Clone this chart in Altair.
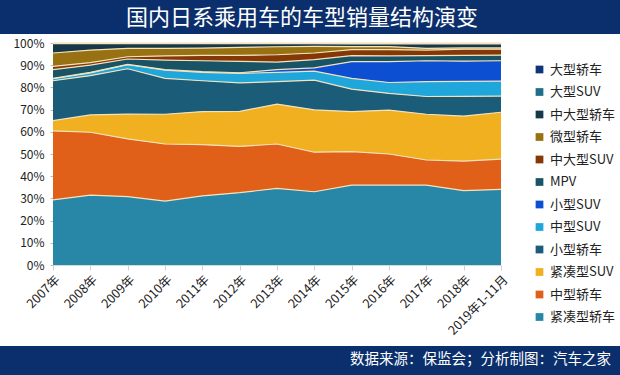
import altair as alt
import pandas as pd

years = ["2007年", "2008年", "2009年", "2010年", "2011年", "2012年", "2013年",
         "2014年", "2015年", "2016年", "2017年", "2018年", "2019年1-11月"]

# stack order: bottom -> top
series_names = ["紧凑型轿车", "中型轿车", "紧凑型SUV", "小型轿车", "中型SUV", "小型SUV",
                "MPV", "中大型SUV", "微型轿车", "中大型轿车", "大型SUV", "大型轿车"]

compact_sedan = [29.3, 31.5, 30.8, 28.8, 31.1, 32.6, 34.5, 33.0, 36.0, 36.0, 36.0, 33.5, 34.1]
mid_sedan     = [31.1, 28.3, 26.0, 25.7, 23.1, 20.8, 20.0, 17.8, 15.1, 14.0, 11.3, 13.3, 13.6]
compact_suv   = [4.6, 7.8, 11.2, 13.4, 14.9, 15.8, 18.0, 19.1, 18.0, 19.8, 20.6, 20.3, 21.1]
small_sedan   = [18.0, 17.7, 20.4, 16.2, 13.9, 12.8, 10.1, 13.4, 10.1, 7.5, 8.0, 8.9, 7.3]
mid_suv       = [0.9, 1.2, 1.8, 3.7, 3.8, 4.3, 4.2, 4.0, 4.9, 4.9, 6.7, 6.7, 6.7]
small_suv     = [0.2, 0.3, 0.2, 0.2, 0.3, 0.3, 1.2, 1.5, 7.5, 9.4, 9.4, 9.1, 9.2]
mpv           = [3.9, 3.2, 2.4, 4.3, 4.9, 5.1, 3.4, 3.7, 2.7, 2.6, 2.3, 2.6, 2.5]
midlarge_suv  = [1.5, 1.2, 1.0, 1.9, 2.4, 2.7, 3.3, 3.0, 2.7, 2.8, 2.5, 2.8, 2.7]
mini_sedan    = [6.0, 5.6, 3.8, 3.4, 3.3, 3.6, 3.6, 3.0, 1.4, 1.4, 0.8, 0.6, 0.6]
midlarge_sedan= [4.2, 2.9, 2.1, 2.1, 2.0, 1.7, 1.4, 1.2, 1.2, 1.2, 2.0, 1.8, 1.8]
large_suv     = [0.1, 0.1, 0.1, 0.1, 0.1, 0.1, 0.1, 0.1, 0.2, 0.2, 0.2, 0.2, 0.2]
large_sedan   = [0.2, 0.2, 0.2, 0.2, 0.2, 0.2, 0.2, 0.2, 0.2, 0.2, 0.2, 0.2, 0.2]

series_values = [compact_sedan, mid_sedan, compact_suv, small_sedan, mid_suv, small_suv,
                 mpv, midlarge_suv, mini_sedan, midlarge_sedan, large_suv, large_sedan]

series_colors = ["#2886a6", "#e0601a", "#f0b020", "#1b5d78", "#1fa6da", "#0c4fd2",
                 "#185466", "#843808", "#987212", "#173848", "#1f6f88", "#0f3478"]

y_ticks = [0, 0.1, 0.2, 0.3, 0.4, 0.5, 0.6, 0.7, 0.8, 0.9, 1.0]

legend_order = list(reversed(series_names))
legend_colors = list(reversed(series_colors))

rows = []
for i, (name, vals) in enumerate(zip(series_names, series_values)):
    for y, v in zip(years, vals):
        rows.append({"year": y, "series": name, "value": v, "idx": i})
df = pd.DataFrame(rows)

title_text = "国内日系乘用车的车型销量结构演变"
footer_text = "数据来源：保监会；分析制图：汽车之家"

FONT = "Noto Sans CJK SC"
W, H = 448, 222
PL, PT = 53, 43

x_axis = alt.Axis(title=None, labelAngle=-45, labelFontSize=12.5, labelFont=FONT,
                  labelColor="#222", tickColor="#cfcfcf", tickSize=5,
                  domainColor="#d8d8d8", labelPadding=3, labelOverlap=False)
y_axis = alt.Axis(title=None, values=y_ticks, format=".0%", labelFontSize=12, labelFont=FONT,
                  labelColor="#222", grid=False, domain=False, tickSize=3,
                  tickColor="#bbb", labelPadding=6, labelOverlap=False)
x_scale = alt.Scale(padding=0)
y_scale = alt.Scale(domain=[0, 1], nice=False)

area = alt.Chart(df).mark_area(opacity=1).encode(
    x=alt.X("year:O", sort=years, scale=x_scale, axis=x_axis),
    y=alt.Y("value:Q", stack="normalize", scale=y_scale, axis=y_axis),
    color=alt.Color("series:N", scale=alt.Scale(domain=legend_order, range=legend_colors),
                    legend=alt.Legend(title=None, orient="none", legendX=480, legendY=20,
                                      symbolType="square", symbolSize=60, symbolStrokeWidth=0,
                                      labelFontSize=13, labelFont=FONT, labelColor="#222",
                                      rowPadding=8.5, padding=0, labelOffset=4)),
    order=alt.Order("idx:Q", sort="ascending"),
)

lines = alt.Chart(df).mark_line(color="#f4e2bc", strokeWidth=1.2).encode(
    x=alt.X("year:O", sort=years, scale=x_scale, axis=x_axis),
    y=alt.Y("value:Q", stack="normalize", scale=y_scale, axis=y_axis),
    detail="series:N",
    order=alt.Order("idx:Q", sort="ascending"),
)

one = pd.DataFrame({"t": [title_text], "f": [footer_text]})
bar_color = "#0b2f6c"
top_bar = alt.Chart(one).mark_rect(color=bar_color).encode(
    x=alt.value(-PL), x2=alt.value(620 - PL), y=alt.value(-PT), y2=alt.value(34 - PT))
bottom_bar = alt.Chart(one).mark_rect(color=bar_color).encode(
    x=alt.value(-PL), x2=alt.value(620 - PL), y=alt.value(346 - PT), y2=alt.value(375 - PT))
title = alt.Chart(one).mark_text(color="white", fontSize=22, font=FONT, align="center",
                                 baseline="middle").encode(
    x=alt.value(302 - PL), y=alt.value(18 - PT), text="t:N")
footer = alt.Chart(one).mark_text(color="white", fontSize=14.5, font=FONT, align="right",
                                  baseline="middle").encode(
    x=alt.value(611 - PL), y=alt.value(360 - PT), text="f:N")

chart = alt.layer(area, lines, top_bar, bottom_bar, title, footer).properties(
    width=W, height=H,
    autosize=alt.AutoSizeParams(type="none"),
    padding={"left": PL, "top": PT, "right": 620 - PL - W, "bottom": 375 - PT - H},
    background="white",
).configure_view(stroke=None).configure_axisY(labelOverlap=False)

chart.save("out.html", embed_options={"renderer": "svg", "actions": False})
